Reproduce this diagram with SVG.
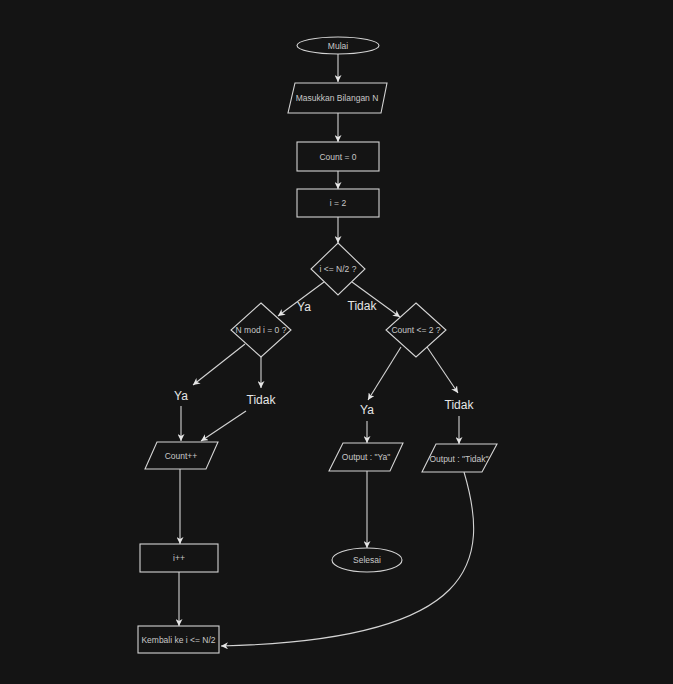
<svg xmlns="http://www.w3.org/2000/svg" width="673" height="684" viewBox="0 0 673 684">
<style>
.bg{fill:#141414}
.n{fill:#141414;stroke:#d4d4d4;stroke-width:1.1}
.t{font-family:"Liberation Sans",Arial,sans-serif;font-size:8.5px;fill:#c8c8c8;text-anchor:middle;dominant-baseline:central}
.lbl{font-family:"Liberation Sans",Arial,sans-serif;font-size:12px;fill:#e6e6e6;text-anchor:middle;dominant-baseline:central}
.e{fill:none;stroke:#d4d4d4;stroke-width:1.1;marker-end:url(#arr)}
</style>
<defs>
<marker id="arr" viewBox="0 0 10 10" refX="10" refY="5" markerWidth="7" markerHeight="7" markerUnits="userSpaceOnUse" orient="auto">
<path d="M0,0 L10,5 L0,10 L3,5 z" fill="#e6e6e6"/>
</marker>
</defs>
<rect class="bg" x="0" y="0" width="673" height="684"/>
<g id="edges">
<line class="e" x1="338" y1="54" x2="338" y2="82"/>
<line class="e" x1="338" y1="113" x2="338" y2="142"/>
<line class="e" x1="338" y1="171" x2="338" y2="189"/>
<line class="e" x1="338" y1="217" x2="338" y2="243"/>
<line class="e" x1="324" y1="282" x2="278" y2="316"/>
<line class="e" x1="352" y1="282" x2="400" y2="317"/>
<line class="e" x1="245" y1="344" x2="193" y2="385"/>
<line class="e" x1="181" y1="406" x2="181" y2="441"/>
<line class="e" x1="261" y1="357" x2="261" y2="388"/>
<line class="e" x1="246" y1="411" x2="201" y2="441"/>
<line class="e" x1="180" y1="469" x2="180" y2="544"/>
<line class="e" x1="179" y1="572" x2="179" y2="626"/>
<line class="e" x1="401" y1="347" x2="368" y2="400"/>
<line class="e" x1="367" y1="421" x2="367" y2="443"/>
<line class="e" x1="427" y1="347" x2="458" y2="393"/>
<line class="e" x1="459" y1="416" x2="459" y2="444"/>
<line class="e" x1="367" y1="471" x2="367" y2="548"/>
<path class="e" d="M464,472 C490,560 480,640 221,646"/>
<text class="lbl" x="304" y="307">Ya</text>
<text class="lbl" x="362" y="306">Tidak</text>
<text class="lbl" x="181" y="396">Ya</text>
<text class="lbl" x="261" y="400">Tidak</text>
<text class="lbl" x="367" y="410">Ya</text>
<text class="lbl" x="459" y="405">Tidak</text>
</g>
<g id="mulai"><ellipse class="n" cx="338" cy="45.5" rx="41" ry="8.5"/><text class="t" x="338" y="46">Mulai</text></g>
<g id="input"><polygon class="n" points="295,83 387,83 381,113 288,113"/><text class="t" x="337" y="98">Masukkan Bilangan N</text></g>
<g id="count0"><rect class="n" x="297" y="142" width="82" height="29"/><text class="t" x="338" y="156.5">Count = 0</text></g>
<g id="i2"><rect class="n" x="297" y="189" width="82" height="28"/><text class="t" x="338" y="203">i = 2</text></g>
<g id="cond1"><polygon class="n" points="338,243 365,269 338,295 311,269"/><text class="t" x="338" y="269">i &lt;= N/2 ?</text></g>
<g id="cond2"><polygon class="n" points="261,303 291,330 261,357 231,330"/><text class="t" x="261" y="330">N mod i = 0 ?</text></g>
<g id="cond3"><polygon class="n" points="416,303 446,330 416,357 386,330"/><text class="t" x="416" y="330">Count &lt;= 2 ?</text></g>
<g id="countpp"><polygon class="n" points="157,442 218,442 206,469 145,469"/><text class="t" x="181" y="456">Count++</text></g>
<g id="ipp"><rect class="n" x="140" y="544" width="78" height="28"/><text class="t" x="179" y="558">i++</text></g>
<g id="kembali"><rect class="n" x="138" y="626" width="81" height="27"/><text class="t" x="178.5" y="639.5">Kembali ke i &lt;= N/2</text></g>
<g id="outya"><polygon class="n" points="343,443 403,443 390,471 329,471"/><text class="t" x="366" y="457">Output : "Ya"</text></g>
<g id="outtidak"><polygon class="n" points="436,444 497,444 482,472 422,472"/><text class="t" x="459" y="459">Output : "Tidak"</text></g>
<g id="selesai"><ellipse class="n" cx="367" cy="560" rx="35" ry="12"/><text class="t" x="367" y="560">Selesai</text></g>
</svg>
